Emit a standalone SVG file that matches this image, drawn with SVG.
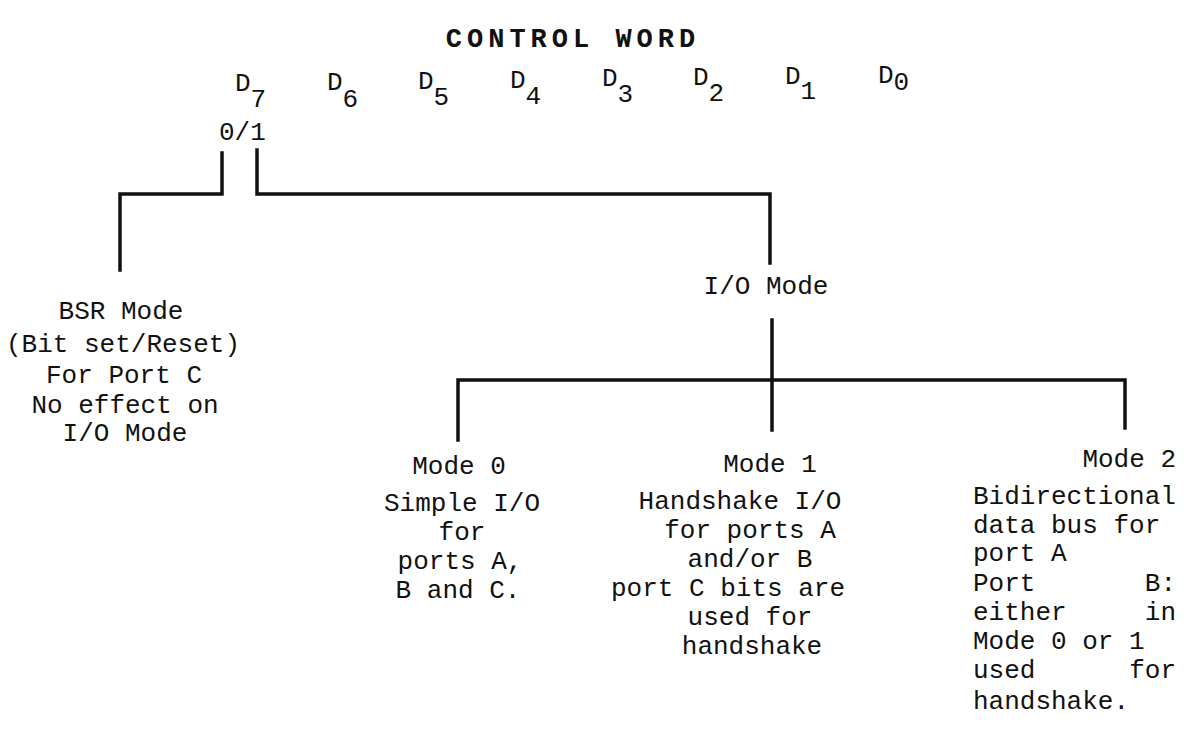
<svg xmlns="http://www.w3.org/2000/svg" width="1194" height="732" viewBox="0 0 1194 732">
  <style>
    text { font-family: "Liberation Mono", "DejaVu Sans Mono", monospace; font-size: 26px; fill: #111; }
    .title { font-weight: bold; font-size: 27px; letter-spacing: 5px; }
    .mid { text-anchor: middle; }
    .end { text-anchor: end; }
    .wire { fill: none; stroke: #111; stroke-width: 3.5; stroke-linecap: square; stroke-linejoin: miter; }
  </style>
  <rect width="1194" height="732" fill="#fff"/>

  <g id="title">
    <text class="title mid" x="573" y="47">CONTROL WORD</text>
  </g>

  <g id="bits">
    <text x="235" y="91">D<tspan dy="16">7</tspan></text>
    <text x="327" y="90">D<tspan dy="17">6</tspan></text>
    <text x="418" y="89">D<tspan dy="16">5</tspan></text>
    <text x="510" y="88">D<tspan dy="16">4</tspan></text>
    <text x="602" y="86">D<tspan dy="16">3</tspan></text>
    <text x="693" y="85">D<tspan dy="16">2</tspan></text>
    <text x="785" y="84">D<tspan dy="15">1</tspan></text>
    <text x="878" y="83">D<tspan dy="7">0</tspan></text>
    <text x="219" y="140">0/1</text>
  </g>

  <g id="connectors">
    <!-- D7 = 0 : BSR branch -->
    <polyline class="wire" points="222,153 222,194 120,194 120,270"/>
    <!-- D7 = 1 : I/O mode branch -->
    <polyline class="wire" points="257,150 257,194 770,194 770,263"/>
    <!-- I/O mode fan-out -->
    <line class="wire" x1="772" y1="320" x2="772" y2="430"/>
    <polyline class="wire" points="458,440 458,380 1125,380 1125,428"/>
  </g>

  <g id="bsr-mode">
    <text class="mid" x="121" y="319">BSR Mode</text>
    <text class="mid" x="123" y="352">(Bit set/Reset)</text>
    <text class="mid" x="124" y="383">For Port C</text>
    <text class="mid" x="125" y="413">No effect on</text>
    <text class="mid" x="125" y="441">I/O Mode</text>
  </g>

  <g id="io-mode">
    <text class="mid" x="766" y="294">I/O Mode</text>
  </g>

  <g id="mode-0">
    <text class="mid" x="459" y="474">Mode 0</text>
    <text class="mid" x="462" y="511">Simple I/O</text>
    <text class="mid" x="462" y="540">for</text>
    <text class="mid" x="460" y="569">ports A,</text>
    <text class="mid" x="458" y="598">B and C.</text>
  </g>

  <g id="mode-1">
    <text class="mid" x="770" y="472">Mode 1</text>
    <text class="mid" x="740" y="509">Handshake I/O</text>
    <text class="mid" x="750" y="538">for ports A</text>
    <text class="mid" x="750" y="567">and/or B</text>
    <text class="mid" x="728" y="596">port C bits are</text>
    <text class="mid" x="750" y="625">used for</text>
    <text class="mid" x="752" y="654">handshake</text>
  </g>

  <g id="mode-2">
    <text class="end" x="1176" y="467">Mode 2</text>
    <text x="973" y="504">Bidirectional</text>
    <text x="973" y="533">data bus for</text>
    <text x="973" y="561">port A</text>
    <text x="973" y="591">Port<tspan class="end" x="1176">B:</tspan></text>
    <text x="973" y="620">either<tspan class="end" x="1176">in</tspan></text>
    <text x="973" y="649">Mode 0 or 1</text>
    <text x="973" y="678">used<tspan class="end" x="1176">for</tspan></text>
    <text x="973" y="709">handshake.</text>
  </g>
</svg>
